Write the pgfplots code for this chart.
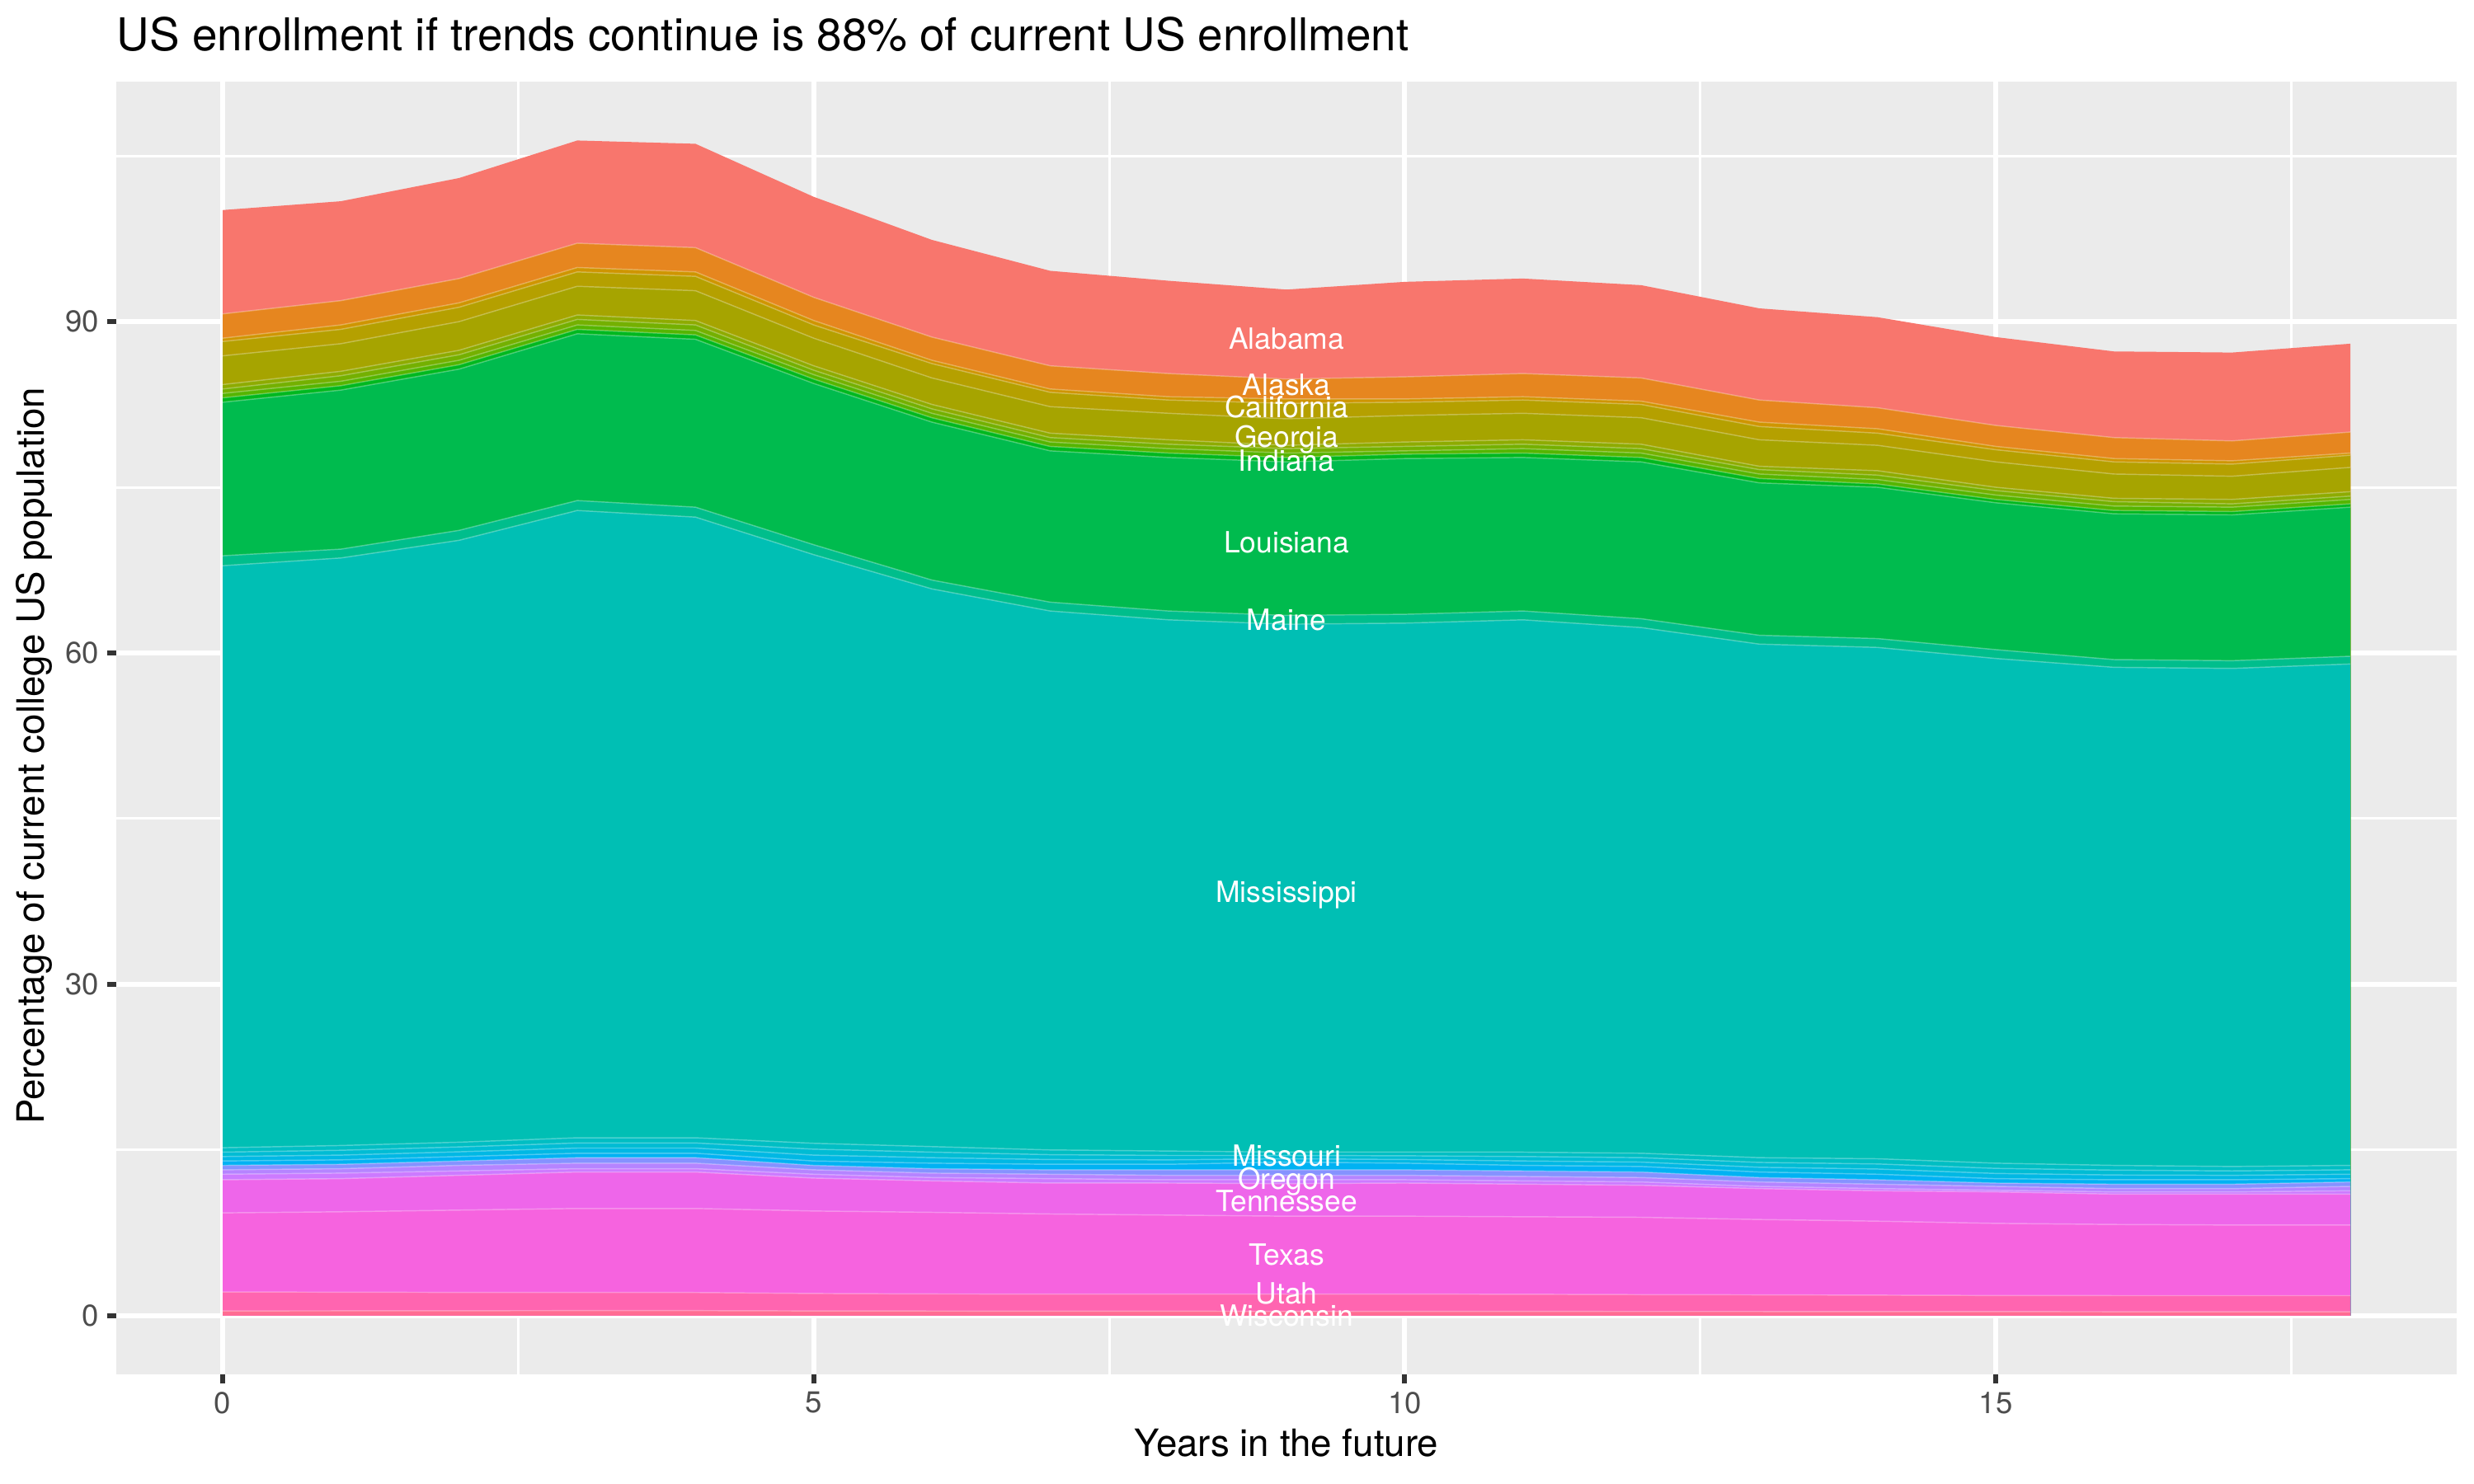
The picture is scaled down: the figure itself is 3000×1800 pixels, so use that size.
\documentclass[border=0pt]{standalone}
\usepackage{pgfplots}
\pgfplotsset{compat=1.18}
\usepackage{pgfplotstable}
\usepackage{fontspec}
\setmainfont{TeX Gyre Heros}

\definecolor{panelbg}{HTML}{EBEBEB}
\definecolor{grey30}{HTML}{4D4D4D}
\definecolor{grey20}{HTML}{333333}
\definecolor{cAlabama}{HTML}{F8766D}
\definecolor{cOrange}{HTML}{E6861F}
\definecolor{cGolden}{HTML}{CF9500}
\definecolor{cOliveA}{HTML}{B5A000}
\definecolor{cOliveB}{HTML}{A6A400}
\definecolor{cGa}{HTML}{8EAB00}
\definecolor{cGb}{HTML}{74B000}
\definecolor{cGc}{HTML}{55B500}
\definecolor{cBright}{HTML}{00B81F}
\definecolor{cLouisiana}{HTML}{00BB4E}
\definecolor{cMaine}{HTML}{00BE8C}
\definecolor{cMiss}{HTML}{00BFB4}
\definecolor{cTealA}{HTML}{00BEC3}
\definecolor{cTealB}{HTML}{00BCD4}
\definecolor{cTealC}{HTML}{00B8E4}
\definecolor{cBlue}{HTML}{00B2F3}
\definecolor{cPeri}{HTML}{8592FF}
\definecolor{cPurple}{HTML}{B584FF}
\definecolor{cPinkPurple}{HTML}{CC7AFF}
\definecolor{cTennessee}{HTML}{EE66EA}
\definecolor{cTexas}{HTML}{F663DF}
\definecolor{cUtah}{HTML}{FF65B0}
\definecolor{cWisconsin}{HTML}{FF6C92}

% cumulative upper boundary of each band (bands stacked, Alabama on top)
\pgfplotstableread{
x  T     A     OR    GO    O1    O2    GA    GB    GC    LT    LB    MT    MB    TA    TB    BB    BP    BU    BV    TN    TX    UT    WI
0  100.1 90.7  88.5  88.2  86.9  84.3  83.9  83.5  83.1  82.7  68.8  67.9  15.2  14.8  14.4  14.0  13.6  13.2  12.8  12.3  9.3   2.14  0.42
1  100.9 91.9  89.7  89.3  88.0  85.5  85.1  84.6  84.2  83.8  69.4  68.6  15.4  14.97 14.53 14.1  13.7  13.3  12.9  12.4  9.4   2.12  0.43
2  103.0 93.9  91.7  91.3  90.0  87.4  87.0  86.5  86.1  85.7  71.1  70.2  15.7  15.27 14.83 14.4  14.0  13.6  13.1  12.7  9.55  2.10  0.44
3  106.4 97.1  94.9  94.5  93.2  90.6  90.2  89.7  89.3  88.9  73.8  72.9  16.1  15.63 15.17 14.7  14.3  13.8  13.3  13.0  9.7   2.10  0.45
4  106.1 96.7  94.5  94.1  92.8  90.1  89.7  89.2  88.8  88.4  73.2  72.3  16.1  15.63 15.17 14.7  14.3  13.8  13.3  13.0  9.7   2.09  0.45
5  101.3 92.2  90.1  89.7  88.5  86.0  85.6  85.2  84.8  84.4  69.8  68.9  15.6  15.07 14.53 14.0  13.6  13.2  12.8  12.45 9.47  2.00  0.42
6  97.4  88.6  86.5  86.2  84.9  82.5  82.1  81.7  81.3  80.9  66.6  65.8  15.3  14.8  14.3  13.8  13.3  12.9  12.5  12.2  9.35  1.96  0.41
7  94.6  86.0  83.9  83.6  82.3  79.9  79.5  79.1  78.7  78.3  64.6  63.8  15.0  14.57 14.13 13.7  13.2  12.8  12.4  12.0  9.2   1.95  0.40
8  93.7  85.3  83.2  82.9  81.7  79.3  78.9  78.5  78.1  77.7  63.8  63.0  14.9  14.5  14.1  13.7  13.2  12.7  12.3  12.0  9.1   1.95  0.40
9  92.9  84.8  83.0  82.6  81.2  78.8  78.5  78.1  77.7  77.3  63.4  62.6  14.8  14.5  14.2  13.9  13.2  12.7  12.3  11.95 9.0   1.95  0.38
10 93.6  85.0  83.0  82.7  81.5  79.1  78.7  78.3  78.0  77.6  63.5  62.7  14.8  14.47 14.13 13.8  13.2  12.7  12.3  12.0  9.0   1.95  0.38
11 93.9  85.3  83.2  82.9  81.7  79.3  78.9  78.5  78.1  77.7  63.8  63.0  14.8  14.4  14.0  13.6  13.1  12.6  12.2  11.9  8.95  1.93  0.38
12 93.3  84.9  82.8  82.5  81.3  78.9  78.5  78.1  77.7  77.3  63.1  62.3  14.7  14.3  13.9  13.5  13.0  12.5  12.1  11.8  8.9   1.90  0.37
13 91.2  82.9  80.9  80.5  79.3  76.9  76.6  76.2  75.8  75.4  61.6  60.8  14.3  13.87 13.43 13.0  12.5  12.1  11.7  11.5  8.7   1.88  0.37
14 90.4  82.2  80.3  79.9  78.8  76.5  76.1  75.7  75.3  75.0  61.3  60.5  14.2  13.73 13.27 12.8  12.3  11.9  11.5  11.3  8.55  1.85  0.36
15 88.6  80.6  78.7  78.4  77.3  75.0  74.7  74.3  73.9  73.6  60.3  59.5  13.8  13.33 12.87 12.4  12.0  11.7  11.35 11.2  8.35  1.82  0.36
16 87.3  79.5  77.6  77.3  76.2  74.0  73.7  73.3  72.9  72.6  59.4  58.7  13.6  13.17 12.73 12.3  11.9  11.5  11.2  11.0  8.25  1.81  0.35
17 87.2  79.2  77.4  77.1  76.0  73.9  73.5  73.2  72.8  72.5  59.3  58.6  13.5  13.1  12.7  12.3  11.9  11.5  11.2  11.0  8.2   1.81  0.35
18 88.0  80.0  78.1  77.9  76.8  74.6  74.2  73.9  73.5  73.2  59.7  59.0  13.6  13.2  12.8  12.4  12.1  11.7  11.3  11.0  8.2   1.81  0.35
}\enrol

\begin{document}
\begin{tikzpicture}[x=0.2409pt, y=0.2409pt]
\path[use as bounding box] (0,0) rectangle (3000,1800);
\begin{axis}[
  at={(33.97pt,32.04pt)}, anchor=south west,
  scale only axis, width=683.7pt, height=377.7pt,
  xmin=-0.9, xmax=18.9, ymin=-5.32, ymax=111.72,
  axis background/.style={fill=panelbg},
  axis line style={draw=none},
  xtick={0,5,10,15}, ytick={0,30,60,90},
  minor xtick={2.5,7.5,12.5,17.5}, minor ytick={15,45,75,105},
  xtick pos=bottom, ytick pos=left,
  grid=both,
  major grid style={white, line width=1.42pt},
  minor grid style={white, line width=0.71pt},
  tick align=outside, major tick length=2.75pt, minor tick length=0pt,
  major tick style={grey20, line width=1.42pt},
  /pgf/number format/assume math mode=true,
  ticklabel style={font=\fontsize{8.8}{10}\selectfont, text=grey30},
  xticklabel style={inner sep=0pt, anchor=north, yshift=-2.2pt},
  yticklabel style={inner sep=0pt, anchor=east, xshift=-2.2pt},
  clip=false,
]
\addplot[fill=cAlabama, draw=none] table[x=x,y=T]{\enrol} \closedcycle;
\addplot[fill=cOrange, draw=none] table[x=x,y=A]{\enrol} \closedcycle;
\addplot[fill=cGolden, draw=none] table[x=x,y=OR]{\enrol} \closedcycle;
\addplot[fill=cOliveA, draw=none] table[x=x,y=GO]{\enrol} \closedcycle;
\addplot[fill=cOliveB, draw=none] table[x=x,y=O1]{\enrol} \closedcycle;
\addplot[fill=cGa, draw=none] table[x=x,y=O2]{\enrol} \closedcycle;
\addplot[fill=cGb, draw=none] table[x=x,y=GA]{\enrol} \closedcycle;
\addplot[fill=cGc, draw=none] table[x=x,y=GB]{\enrol} \closedcycle;
\addplot[fill=cBright, draw=none] table[x=x,y=GC]{\enrol} \closedcycle;
\addplot[fill=cLouisiana, draw=none] table[x=x,y=LT]{\enrol} \closedcycle;
\addplot[fill=cMaine, draw=none] table[x=x,y=LB]{\enrol} \closedcycle;
\addplot[fill=cMiss, draw=none] table[x=x,y=MT]{\enrol} \closedcycle;
\addplot[fill=cTealA, draw=none] table[x=x,y=MB]{\enrol} \closedcycle;
\addplot[fill=cTealB, draw=none] table[x=x,y=TA]{\enrol} \closedcycle;
\addplot[fill=cTealC, draw=none] table[x=x,y=TB]{\enrol} \closedcycle;
\addplot[fill=cBlue, draw=none] table[x=x,y=BB]{\enrol} \closedcycle;
\addplot[fill=cPeri, draw=none] table[x=x,y=BP]{\enrol} \closedcycle;
\addplot[fill=cPurple, draw=none] table[x=x,y=BU]{\enrol} \closedcycle;
\addplot[fill=cPinkPurple, draw=none] table[x=x,y=BV]{\enrol} \closedcycle;
\addplot[fill=cTennessee, draw=none] table[x=x,y=TN]{\enrol} \closedcycle;
\addplot[fill=cTexas, draw=none] table[x=x,y=TX]{\enrol} \closedcycle;
\addplot[fill=cUtah, draw=none] table[x=x,y=UT]{\enrol} \closedcycle;
\addplot[fill=cWisconsin, draw=none] table[x=x,y=WI]{\enrol} \closedcycle;

% faint seams between bands
\pgfplotsinvokeforeach{A,OR,GO,O1,O2,GA,GB,GC,LT,LB,MT,MB,TA,TB,BB,BP,BU,BV,TN,TX,UT,WI}{
  \addplot[draw=white, draw opacity=0.3, line width=0.35pt] table[x=x,y=#1]{\enrol};
}

\begin{scope}[every node/.style={text=white, font=\fontsize{8.54}{10}\selectfont, anchor=base, inner sep=0pt, yshift=-3.1pt}]
\node at (axis cs:9,88.5) {Alabama};
\node at (axis cs:9,84.3) {Alaska};
\node at (axis cs:9,82.3) {California};
\node at (axis cs:9,79.6) {Georgia};
\node at (axis cs:9,77.45) {Indiana};
\node at (axis cs:9,70.0) {Louisiana};
\node at (axis cs:9,63.0) {Maine};
\node at (axis cs:9,38.4) {Mississippi};
\node at (axis cs:9,14.5) {Missouri};
\node at (axis cs:9,12.4) {Oregon};
\node at (axis cs:9,10.4) {Tennessee};
\node at (axis cs:9,5.5) {Texas};
\node at (axis cs:9,2.0) {Utah};
\node at (axis cs:9,0.0) {Wisconsin};
\end{scope}
\end{axis}
\node[anchor=base west, font=\fontsize{13.2}{15}\selectfont, inner sep=0pt] at (141,1738) {US enrollment if trends continue is 88\% of current US enrollment};
\node[anchor=base, font=\fontsize{11}{13}\selectfont, inner sep=0pt] at (1560,33) {Years in the future};
\node[anchor=base, rotate=90, font=\fontsize{11}{13}\selectfont, inner sep=0pt] at (54,883) {Percentage of current college US population};
\end{tikzpicture}
\end{document}
